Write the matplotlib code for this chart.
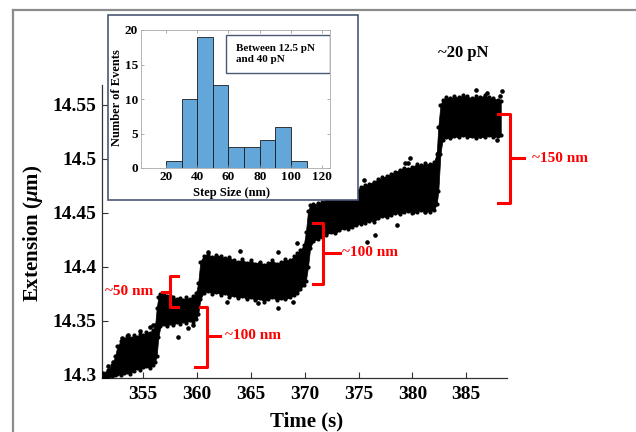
import matplotlib
matplotlib.use("Agg")
import matplotlib.pyplot as plt
from matplotlib.lines import Line2D
from matplotlib.patches import Rectangle

# ---------------- data ----------------
# envelope of the dense extension trace (time s, lower um, upper um)
trace_t = [351.3, 351.7, 352.1, 352.4, 352.6, 352.9, 353.2, 353.5, 353.8, 354.1, 354.4, 354.7,
           355.0, 355.3, 355.6, 355.9, 356.1, 356.25, 356.4, 356.6,
           356.9, 357.2, 357.5, 357.8, 358.1, 358.4, 358.7, 359.0, 359.3, 359.6, 359.9, 360.1, 360.3,
           360.6, 361.0, 361.4, 361.8, 362.2, 362.6, 363.0, 363.4, 363.8, 364.2, 364.6, 365.0,
           365.4, 365.8, 366.2, 366.6, 367.0, 367.4, 367.8, 368.2, 368.6, 369.0, 369.3, 369.6,
           369.9, 370.1, 370.3,
           370.5, 370.8, 371.2, 371.6, 372.0, 372.4, 372.8, 373.2, 373.6, 374.0, 374.4, 374.8,
           375.2, 375.6, 376.0, 376.4, 376.8, 377.2, 377.6, 378.0, 378.4, 378.8, 379.2, 379.6,
           380.0, 380.4, 380.8, 381.2, 381.6, 382.0, 382.25, 382.4, 382.6,
           382.8, 383.1, 383.5, 383.9, 384.3, 384.7, 385.1, 385.5, 385.9, 386.3, 386.7, 387.1,
           387.5, 387.9, 388.2]
trace_lo = [14.298, 14.298, 14.299, 14.300, 14.301, 14.300, 14.302, 14.303, 14.301, 14.304, 14.306, 14.305,
            14.307, 14.308, 14.306, 14.309, 14.312, 14.318, 14.335, 14.345,
            14.347, 14.345, 14.348, 14.346, 14.349, 14.347, 14.350, 14.348, 14.351, 14.349, 14.352, 14.356, 14.370,
            14.376, 14.378, 14.375, 14.377, 14.374, 14.376, 14.372, 14.374, 14.371, 14.373, 14.370, 14.372,
            14.369, 14.371, 14.368, 14.370, 14.372, 14.369, 14.371, 14.370, 14.372, 14.374, 14.376, 14.380,
            14.383, 14.387, 14.400,
            14.418, 14.424, 14.426, 14.428, 14.430, 14.432, 14.431, 14.434, 14.436, 14.435, 14.437, 14.439,
            14.440, 14.441, 14.443, 14.442, 14.445, 14.447, 14.446, 14.448, 14.450, 14.449, 14.451, 14.452,
            14.450, 14.451, 14.453, 14.452, 14.451, 14.453, 14.458, 14.470, 14.505,
            14.518, 14.520, 14.519, 14.521, 14.520, 14.522, 14.520, 14.521, 14.519, 14.521, 14.520, 14.522,
            14.520, 14.521, 14.522]
trace_hi = [14.302, 14.305, 14.309, 14.318, 14.327, 14.331, 14.333, 14.336, 14.334, 14.337, 14.335, 14.338,
            14.337, 14.340, 14.339, 14.342, 14.346, 14.362, 14.372, 14.375,
            14.376, 14.373, 14.371, 14.372, 14.370, 14.371, 14.369, 14.372, 14.370, 14.373, 14.376, 14.385, 14.405,
            14.410, 14.412, 14.409, 14.411, 14.410, 14.408, 14.409, 14.406, 14.405, 14.407, 14.404, 14.406,
            14.403, 14.405, 14.402, 14.404, 14.406, 14.403, 14.405, 14.407, 14.406, 14.410, 14.413, 14.416,
            14.420, 14.432, 14.452,
            14.457, 14.458, 14.459, 14.460, 14.462, 14.464, 14.466, 14.467, 14.469, 14.470, 14.472, 14.471,
            14.474, 14.476, 14.477, 14.479, 14.481, 14.483, 14.484, 14.486, 14.488, 14.490, 14.492, 14.491,
            14.493, 14.495, 14.494, 14.496, 14.495, 14.497, 14.505, 14.530, 14.550,
            14.555, 14.557, 14.556, 14.558, 14.557, 14.559, 14.558, 14.556, 14.558, 14.557, 14.559, 14.557,
            14.556, 14.555, 14.554]

# scattered outlying points of the trace
out_t = [351.45, 351.91, 351.73, 352.19, 353.03, 353.58, 354.70, 355.63, 355.91, 358.23, 359.16, 359.62,
         357.48, 361.01, 363.98, 367.51, 369.28, 362.78, 365.65, 367.51, 368.90, 375.50, 377.08, 379.30,
         379.58, 382.37, 375.78, 376.52, 378.56, 380.05, 385.90, 386.92, 388.31, 388.13, 383.39, 384.23,
         386.27, 387.85, 385.34, 381.16, 379.77]
out_y = [14.2981, 14.3028, 14.3083, 14.3120, 14.3343, 14.3370, 14.3407, 14.3444, 14.3463, 14.3352, 14.3435, 14.3463,
         14.3731, 14.4139, 14.4148, 14.4139, 14.4222, 14.3676, 14.3667, 14.3620, 14.3676, 14.4806, 14.4778, 14.4963,
         14.4963, 14.5056, 14.4231, 14.4296, 14.4389, 14.4509, 14.5639, 14.5611, 14.5630, 14.5583, 14.5546, 14.5222,
         14.5213, 14.5176, 14.5222, 14.4509, 14.5009]

xticks = [355, 360, 365, 370, 375, 380, 385]
yticks = [14.3, 14.35, 14.4, 14.45, 14.5, 14.55]
ytick_labels = ["14.3", "14.35", "14.4", "14.45", "14.5", "14.55"]

# brace annotations: (x of spine, x of ends top, x of ends bottom, x of tip, y top, y bottom, y mid, label, label x, ha)
braces = [
    (357.48, 358.23, 358.23, 356.74, 14.3917, 14.3630, 14.3769, "~50 nm", 355.9, "right"),
    (360.92, 360.27, 359.80, 362.13, 14.3630, 14.3074, 14.3361, "~100 nm", 362.6, "left"),
    (371.69, 370.76, 370.76, 373.27, 14.4407, 14.3843, 14.4130, "~100 nm", 373.45, "left"),
    (389.05, 387.94, 387.94, 390.35, 14.5417, 14.4593, 14.5009, "~150 nm", 391.1, "left"),
]

# inset histogram
hist_edges = [20, 30, 40, 50, 60, 70, 80, 90, 100, 110]
hist_counts = [1, 10, 19, 12, 3, 3, 4, 6, 1]
inset_xticks = [20, 40, 60, 80, 100, 120]
inset_yticks = [0, 5, 10, 15, 20]

# ---------------- figure ----------------
W, H = 636, 432
fig = plt.figure(figsize=(W / 100, H / 100), dpi=100)
serif = ["Liberation Serif", "DejaVu Serif"]
plt.rcParams["mathtext.fontset"] = "custom"
plt.rcParams["mathtext.it"] = "Liberation Serif:italic:bold"
plt.rcParams["mathtext.rm"] = "Liberation Serif:bold"

# screenshot frame
fig.add_artist(Line2D([13 / W, 13 / W], [0, 1 - 10 / H], transform=fig.transFigure,
                      color="#8c8c8c", lw=1.6))
fig.add_artist(Line2D([13 / W, 1], [1 - 10 / H, 1 - 10 / H], transform=fig.transFigure,
                      color="#8c8c8c", lw=1.6))

ax = fig.add_axes([102 / W, (H - 378) / H, 405 / W, 293 / H])
ax.fill_between(trace_t, trace_lo, trace_hi, color="black", lw=0.5, zorder=2)
ax.plot(trace_t, trace_hi, "o", color="black", ms=2.0, zorder=3)
ax.plot(trace_t, trace_lo, "o", color="black", ms=2.0, zorder=3)
ax.plot(out_t, out_y, "o", color="black", ms=2.3, zorder=3)

ax.set_xlim(351.17, 388.78)
ax.set_ylim(14.2972, 14.5685)
for s in ["top", "right"]:
    ax.spines[s].set_visible(False)
for s in ["left", "bottom"]:
    ax.spines[s].set_color("#333333")
    ax.spines[s].set_linewidth(0.9)
ax.set_xticks(xticks)
ax.set_xticklabels([str(v) for v in xticks], fontfamily=serif, fontweight="bold", fontsize=14)
ax.set_yticks(yticks)
ax.set_yticklabels(ytick_labels, fontfamily=serif, fontweight="bold", fontsize=14)
ax.tick_params(direction="in", length=4, width=0.8, color="#333333")
ax.tick_params(axis="x", pad=6)
ax.tick_params(axis="y", pad=4)
ax.set_xlabel("Time (s)", fontfamily=serif, fontweight="bold", fontsize=15, va="center")
ax.set_ylabel(r"Extension ($\mu$m)", fontfamily=serif, fontweight="bold", fontsize=15, va="center")
ax.xaxis.set_label_coords(0.504, -0.150)
ax.yaxis.set_label_coords(-0.170, 0.495)

# braces
for (xs, xe_t, xe_b, xtip, yt, yb, ym, lab, lx, ha) in braces:
    ax.plot([xe_t, xs, xs, xe_b], [yt, yt, yb, yb], color="red", lw=2.2,
            solid_joinstyle="round", clip_on=False, zorder=4)
    ax.plot([xs, xtip], [ym, ym], color="red", lw=2.2, clip_on=False, zorder=4)
    ax.text(lx, ym, lab, color="red", fontfamily=serif, fontweight="bold", fontsize=11,
            ha=ha, va="center", clip_on=False)

fig.text(463 / W, 1 - 53 / H, "~20 pN", fontfamily=serif, fontweight="bold", fontsize=12,
         ha="center", va="center")

# inset frame
fig.add_artist(Rectangle((108 / W, (H - 200) / H), 250 / W, 185 / H, transform=fig.transFigure,
                         facecolor="white", edgecolor="#4a5775", lw=1.2, zorder=5))

axi = fig.add_axes([141 / W, (H - 168) / H, 189 / W, 138 / H], zorder=6)
axi.bar(hist_edges[:-1], hist_counts, width=[b - a for a, b in zip(hist_edges[:-1], hist_edges[1:])],
        align="edge", color="#62A6DA", edgecolor="#1a1a1a", lw=0.6)
axi.set_xlim(4, 125)
axi.set_ylim(0, 20)
axi.set_xticks(inset_xticks)
axi.set_xticklabels([str(v) for v in inset_xticks], fontfamily=serif, fontweight="bold", fontsize=9.5)
axi.set_yticks(inset_yticks)
axi.set_yticklabels([str(v) for v in inset_yticks], fontfamily=serif, fontweight="bold", fontsize=9.5)
axi.tick_params(direction="in", length=2.5, width=0.5, color="#888888", top=True, right=True, pad=2)
for s in axi.spines.values():
    s.set_color("#aaaaaa")
    s.set_linewidth(0.6)
axi.set_xlabel("Step Size (nm)", fontfamily=serif, fontweight="bold", fontsize=9, va="center")
axi.set_ylabel("Number of Events", fontfamily=serif, fontweight="bold", fontsize=9, va="center")
axi.xaxis.set_label_coords(0.48, -0.181)
axi.yaxis.set_label_coords(-0.127, 0.507)
axi.add_patch(Rectangle((0.45, 0.688), 0.55, 0.276, transform=axi.transAxes,
                        facecolor="white", edgecolor="#4a5775", lw=1.0, zorder=5))
axi.text(0.50, 0.826, "Between 12.5 pN\nand 40 pN", transform=axi.transAxes,
         fontfamily=serif, fontweight="bold", fontsize=8, ha="left", va="center",
         linespacing=1.4, zorder=6)

fig.savefig("out.png", dpi=100)
